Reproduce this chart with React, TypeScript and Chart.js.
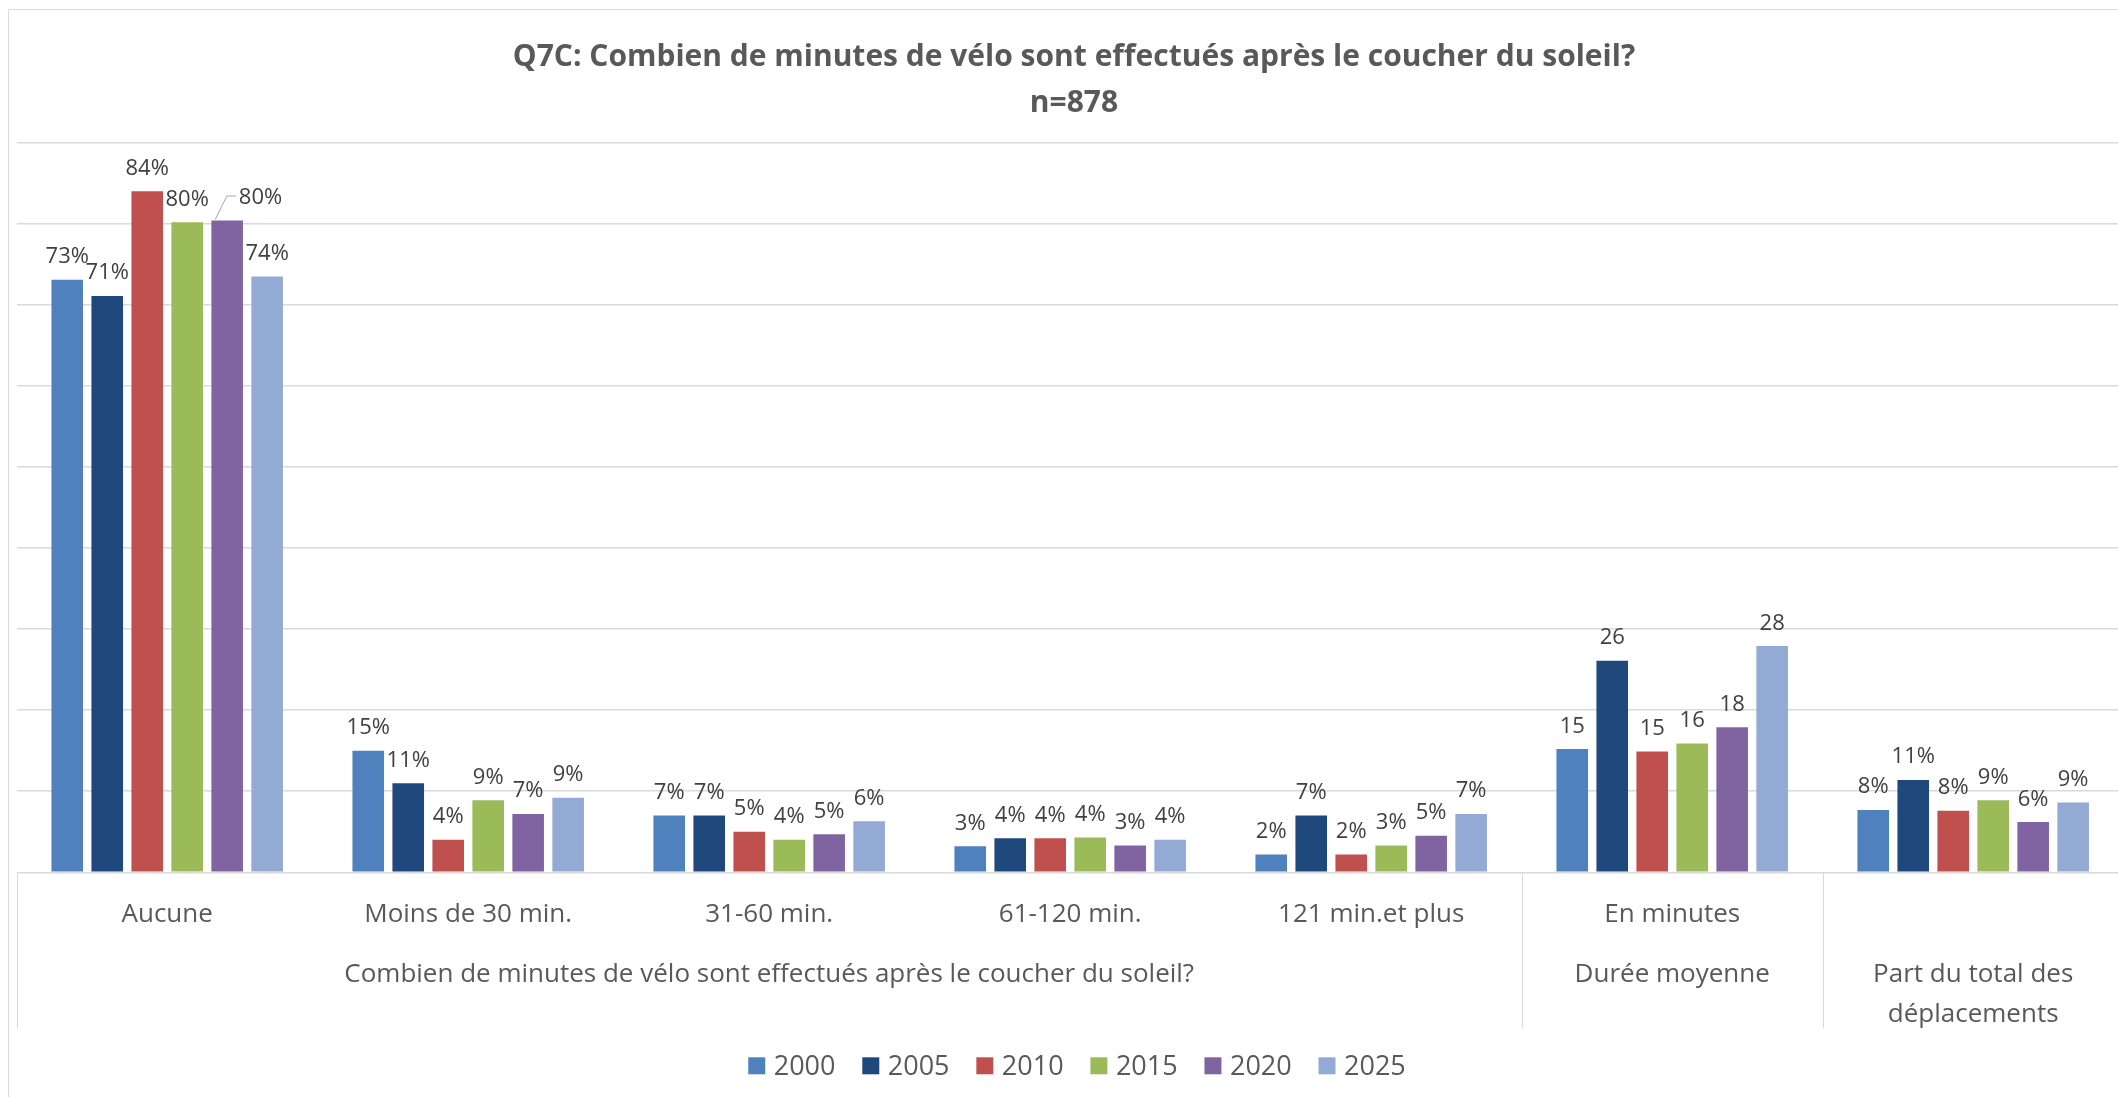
import React, { useEffect, useRef } from 'react';
import { Chart, registerables } from 'chart.js';

Chart.register(...registerables);

// ---- Data ----
const titleLines = [
  'Q7C: Combien de minutes de vélo sont effectués après le coucher du soleil?',
  'n=878',
];
const categories = ['Aucune', 'Moins de 30 min.', '31-60 min.', '61-120 min.', '121 min.et plus', 'En minutes', ''];
const groupLabels = [
  ['Combien de minutes de vélo sont effectués après le coucher du soleil?'],
  ['Durée moyenne'],
  ['Part du total des', 'déplacements'],
];
const groupSpans = [5, 1, 1];
const valueSuffix = ['%', '%', '%', '%', '%', '', '%'];
const years = ['2000', '2005', '2010', '2015', '2020', '2025'];
const colors = ['#4F81BD', '#1F497D', '#C0504D', '#9BBB59', '#8064A2', '#93AAD4'];

const v2000 = [73.1, 15.0, 7.0, 3.2, 2.2, 15.2, 7.7];
const v2005 = [71.1, 11.0, 7.0, 4.2, 7.0, 26.1, 11.4];
const v2010 = [84.0, 4.0, 5.0, 4.2, 2.2, 14.9, 7.6];
const v2015 = [80.2, 8.9, 4.0, 4.3, 3.3, 15.9, 8.9];
const v2020 = [80.4, 7.2, 4.7, 3.3, 4.5, 17.9, 6.2];
const v2025 = [73.5, 9.2, 6.3, 4.0, 7.2, 27.9, 8.6];
const seriesValues = [v2000, v2005, v2010, v2015, v2020, v2025];

const yMin = 0;
const yMax = 90;
const yStep = 10;

// ---- Layout constants ----
const CW = 2132;
const CH = 1100;
const FONT = '"Open Sans", "Noto Sans", sans-serif';

const decorPlugin = {
  id: 'decor',
  afterDraw(chart: any) {
    const { ctx, chartArea } = chart;
    const x = chart.scales.x;
    const W = chart.width;
    const H = chart.height;
    ctx.save();

    // chart border (left + top)
    ctx.strokeStyle = '#d9d9d9';
    ctx.lineWidth = 1;
    ctx.beginPath();
    ctx.moveTo(0.5, H);
    ctx.lineTo(0.5, 0.5);
    ctx.lineTo(W, 0.5);
    ctx.stroke();

    // title
    ctx.fillStyle = '#595959';
    ctx.textAlign = 'center';
    ctx.textBaseline = 'alphabetic';
    ctx.font = `bold 30px ${FONT}`;
    ctx.fillText(titleLines[0], W / 2, 57);
    ctx.fillText(titleLines[1], W / 2, 103);

    // data labels
    ctx.font = `22px ${FONT}`;
    const capH = 16;
    for (let i = 0; i < categories.length; i++) {
      const placed: { l: number; r: number; b: number }[] = [];
      chart.data.datasets.forEach((_ds: any, j: number) => {
        const bar = chart.getDatasetMeta(j).data[i];
        const val = seriesValues[j][i];
        const text = Math.round(val) + valueSuffix[i];
        const w = ctx.measureText(text).width;
        const base = bar.y - 16.5;
        let left = bar.x - w / 2;
        let shifted = false;
        for (const r of placed) {
          const hOv = Math.min(left + w, r.r) - Math.max(left, r.l);
          const vOv = Math.min(base, r.b) - Math.max(base - capH, r.b - capH);
          if (hOv > 1 && vOv > 1) {
            left = r.r + 30;
            shifted = true;
          }
        }
        if (shifted) {
          ctx.strokeStyle = '#a6a6a6';
          ctx.lineWidth = 1;
          ctx.beginPath();
          ctx.moveTo(bar.x - 12, bar.y - 1);
          ctx.lineTo(left - 12, base - capH / 2);
          ctx.lineTo(left - 3, base - capH / 2);
          ctx.stroke();
        }
        ctx.fillStyle = '#404040';
        ctx.textAlign = 'center';
        ctx.fillText(text, left + w / 2, base);
        placed.push({ l: left, r: left + w, b: base });
      });
    }

    // category labels (level 1)
    ctx.font = `26px ${FONT}`;
    ctx.fillStyle = '#595959';
    ctx.textAlign = 'center';
    categories.forEach((c, i) => {
      if (c) ctx.fillText(c, x.getPixelForValue(i), 912.7);
    });

    // group labels (level 2) and separators
    ctx.strokeStyle = '#d9d9d9';
    ctx.lineWidth = 1;
    const sepBottom = 1019;
    const drawSep = (px: number) => {
      const xx = Math.round(px) + 0.5;
      ctx.beginPath();
      ctx.moveTo(xx, chartArea.bottom);
      ctx.lineTo(xx, sepBottom);
      ctx.stroke();
    };
    drawSep(chartArea.left);
    let start = 0;
    groupSpans.forEach((span, g) => {
      const end = start + span;
      const cx = (x.getPixelForValue(start) + x.getPixelForValue(end - 1)) / 2;
      groupLabels[g].forEach((line, k) => {
        ctx.fillText(line, cx, 972.7 + k * 40);
      });
      const boundary = end < categories.length
        ? (x.getPixelForValue(end - 1) + x.getPixelForValue(end)) / 2
        : chartArea.right;
      drawSep(boundary);
      start = end;
    });

    // legend
    ctx.font = `27px ${FONT}`;
    const box = 17;
    const gap = 8.5;
    const spacing = 26.8;
    const widths = years.map((y) => box + gap + ctx.measureText(y).width);
    const total = widths.reduce((a, b) => a + b, 0) + spacing * (years.length - 1);
    let lx = W / 2 - total / 2 + 3;
    ctx.textAlign = 'left';
    years.forEach((y, i) => {
      ctx.fillStyle = colors[i];
      ctx.fillRect(lx, 1048.3, box, box);
      ctx.fillStyle = '#595959';
      ctx.fillText(y, lx + box + gap, 1066);
      lx += widths[i] + spacing;
    });

    ctx.restore();
  },
};

export default function App() {
  const canvasRef = useRef<HTMLCanvasElement | null>(null);

  useEffect(() => {
    const canvas = canvasRef.current;
    if (!canvas) return;
    const chart = new Chart(canvas, {
      type: 'bar',
      data: {
        labels: categories,
        datasets: years.map((y, i) => ({
          label: y,
          data: seriesValues[i],
          backgroundColor: colors[i],
          borderWidth: 0,
          categoryPercentage: 0.797,
          barPercentage: 0.79,
        })),
      },
      options: {
        responsive: false,
        maintainAspectRatio: false,
        animation: false,
        devicePixelRatio: 1,
        layout: {
          padding: { left: 8.7, right: 16.3, top: 133.7, bottom: CH - 863.3 },
        },
        plugins: {
          legend: { display: false },
          title: { display: false },
          tooltip: { enabled: false },
        },
        scales: {
          x: { display: false },
          y: {
            min: yMin,
            max: yMax,
            ticks: { display: false, stepSize: yStep },
            grid: { color: '#d9d9d9', lineWidth: 1.5, drawTicks: false },
            border: { display: false },
          },
        },
      } as any,
      plugins: [decorPlugin],
    });
    return () => chart.destroy();
  }, []);

  return (
    <div
      style={{
        position: 'fixed',
        left: 0,
        top: 0,
        width: '100vw',
        height: '100vh',
        overflow: 'hidden',
        background: '#ffffff',
      }}
    >
      <canvas
        ref={canvasRef}
        width={CW}
        height={CH}
        style={{ position: 'absolute', left: 8, top: 9, width: CW, height: CH }}
      />
    </div>
  );
}
